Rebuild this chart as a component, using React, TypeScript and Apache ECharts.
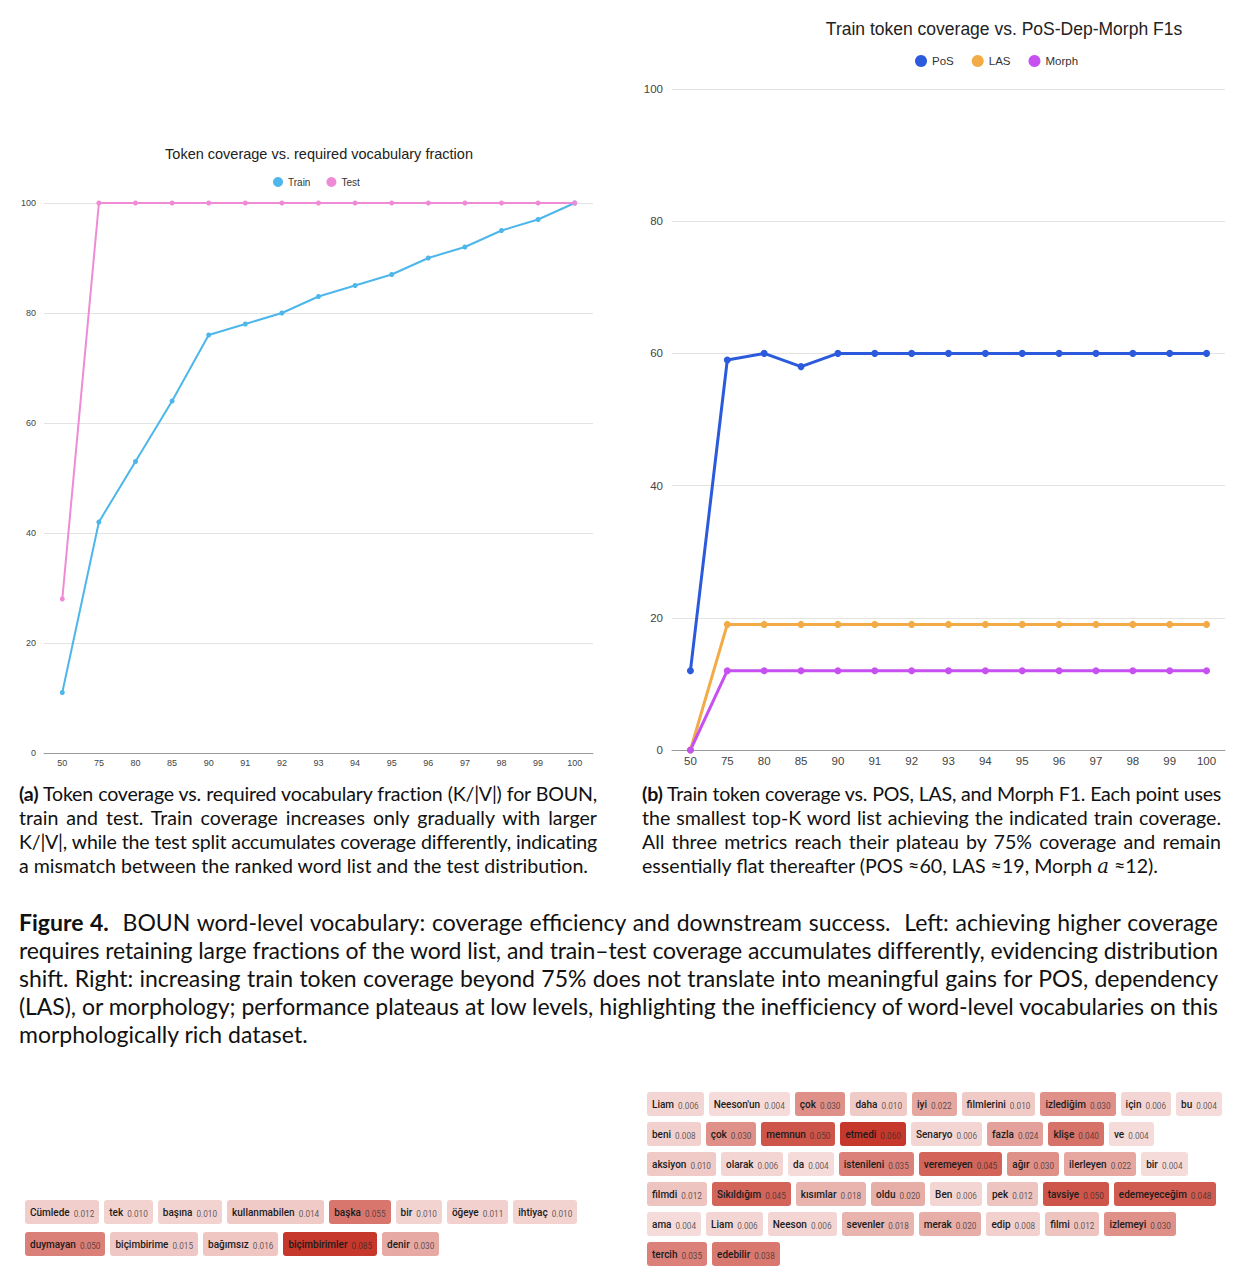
import React, { useEffect, useLayoutEffect, useRef } from "react";
import * as echarts from "echarts";

// Coverage thresholds (% of train tokens covered) shared by both panels
const coverageLevels = ["50", "75", "80", "85", "90", "91", "92", "93", "94", "95", "96", "97", "98", "99", "100"];

// Left panel: token coverage (%) for train and test splits
const trainCoverage = [11, 42, 53, 64, 76, 78, 80, 83, 85, 87, 90, 92, 95, 97, 100];
const testCoverage = [28, 100, 100, 100, 100, 100, 100, 100, 100, 100, 100, 100, 100, 100, 100];

// Right panel: downstream F1 scores
const posF1 = [12, 59, 60, 58, 60, 60, 60, 60, 60, 60, 60, 60, 60, 60, 60];
const lasF1 = [0, 19, 19, 19, 19, 19, 19, 19, 19, 19, 19, 19, 19, 19, 19];
const morphF1 = [0, 12, 12, 12, 12, 12, 12, 12, 12, 12, 12, 12, 12, 12, 12];

// Attribution chips: word and weight
const leftWords = ["Cümlede", "tek", "başına", "kullanmabilen", "başka", "bir", "öğeye", "ihtiyaç", "duymayan", "biçimbirime", "bağımsız", "biçimbirimler", "denir"];
const leftWeights = [0.012, 0.010, 0.010, 0.014, 0.055, 0.010, 0.011, 0.010, 0.050, 0.015, 0.016, 0.085, 0.030];
const leftRowSizes = [8, 5];

const rightWords = [
  "Liam", "Neeson'un", "çok", "daha", "iyi", "filmlerini", "izlediğim", "için", "bu",
  "beni", "çok", "memnun", "etmedi", "Senaryo", "fazla", "klişe", "ve",
  "aksiyon", "olarak", "da", "istenileni", "veremeyen", "ağır", "ilerleyen", "bir",
  "filmdi", "Sıkıldığım", "kısımlar", "oldu", "Ben", "pek", "tavsiye", "edemeyeceğim",
  "ama", "Liam", "Neeson", "sevenler", "merak", "edip", "filmi", "izlemeyi",
  "tercih", "edebilir",
];
const rightWeights = [
  0.006, 0.004, 0.030, 0.010, 0.022, 0.010, 0.030, 0.006, 0.004,
  0.008, 0.030, 0.050, 0.060, 0.006, 0.024, 0.040, 0.004,
  0.010, 0.006, 0.004, 0.035, 0.045, 0.030, 0.022, 0.004,
  0.012, 0.045, 0.018, 0.020, 0.006, 0.012, 0.050, 0.048,
  0.004, 0.006, 0.006, 0.018, 0.020, 0.008, 0.012, 0.030,
  0.035, 0.038,
];
const rightRowSizes = [9, 8, 8, 8, 8, 2];

const captionA = [
  ["(a)", " Token coverage vs. required vocabulary fraction (K/|V|) for BOUN,"],
  ["", "train and test. Train coverage increases only gradually with larger"],
  ["", "K/|V|, while the test split accumulates coverage differently, indicating"],
  ["", "a mismatch between the ranked word list and the test distribution."],
];
const captionB = [
  ["(b)", " Train token coverage vs. POS, LAS, and Morph F1. Each point uses"],
  ["", "the smallest top-K word list achieving the indicated train coverage."],
  ["", "All three metrics reach their plateau by 75% coverage and remain"],
  ["", "essentially flat thereafter (POS ≈60, LAS ≈19, Morph"],
];
const figureCaption = [
  ["Figure 4.", "  BOUN word-level vocabulary: coverage efficiency and downstream success.  Left: achieving higher coverage"],
  ["", "requires retaining large fractions of the word list, and train–test coverage accumulates differently, evidencing distribution"],
  ["", "shift. Right: increasing train token coverage beyond 75% does not translate into meaningful gains for POS, dependency"],
  ["", "(LAS), or morphology; performance plateaus at low levels, highlighting the inefficiency of word-level vocabularies on this"],
  ["", "morphologically rich dataset."],
];

const FONT = "'Liberation Sans', Arial, sans-serif";
const CAPTION_FONT = "Lato, 'Noto Sans', sans-serif";

function buildOption(): echarts.EChartsOption {
  const axisLabel = (size: number, margin: number) => ({ color: "#444", fontSize: size, fontFamily: FONT, margin });
  const split = { show: true, lineStyle: { color: "#e3e3e3", width: 1 } };
  return {
    animation: false,
    backgroundColor: "#ffffff",
    textStyle: { fontFamily: FONT },
    title: [
      {
        text: "Token coverage vs. required vocabulary fraction",
        left: 319, top: 146, textAlign: "center", padding: 0,
        textStyle: { fontSize: 14.5, fontWeight: "normal", color: "#222", fontFamily: FONT },
      },
      {
        text: "Train token coverage vs. PoS-Dep-Morph F1s",
        left: 1004, top: 20, textAlign: "center", padding: 0,
        textStyle: { fontSize: 17.5, fontWeight: "normal", color: "#222", fontFamily: FONT },
      },
    ],
    legend: [
      {
        data: ["Train", "Test"], left: 273, top: 177, icon: "circle", padding: 0,
        itemWidth: 10, itemHeight: 10, itemGap: 16,
        textStyle: { fontSize: 10, color: "#333", fontFamily: FONT },
      },
      {
        data: ["PoS", "LAS", "Morph"], left: 915, top: 55, icon: "circle", padding: 0,
        itemWidth: 12, itemHeight: 12, itemGap: 18,
        textStyle: { fontSize: 11.5, color: "#333", fontFamily: FONT },
      },
    ],
    grid: [
      { left: 44, top: 203, width: 549, height: 550 },
      { left: 672, top: 89, width: 553, height: 661 },
    ],
    xAxis: [
      {
        type: "category", gridIndex: 0, data: coverageLevels, boundaryGap: true,
        axisTick: { show: false }, axisLine: { lineStyle: { color: "#9a9a9a" } },
        axisLabel: axisLabel(9, 5),
      },
      {
        type: "category", gridIndex: 1, data: coverageLevels, boundaryGap: true,
        axisTick: { show: false }, axisLine: { lineStyle: { color: "#9a9a9a" } },
        axisLabel: axisLabel(11.5, 5),
      },
    ],
    yAxis: [
      {
        type: "value", gridIndex: 0, min: 0, max: 100, interval: 20,
        axisLine: { show: false }, axisTick: { show: false },
        axisLabel: axisLabel(9, 8), splitLine: split,
      },
      {
        type: "value", gridIndex: 1, min: 0, max: 100, interval: 20,
        axisLine: { show: false }, axisTick: { show: false },
        axisLabel: axisLabel(11.5, 9), splitLine: split,
      },
    ],
    series: [
      {
        name: "Train", type: "line", xAxisIndex: 0, yAxisIndex: 0, data: trainCoverage,
        color: "#4db6ea", symbol: "circle", symbolSize: 5, lineStyle: { width: 2 },
      },
      {
        name: "Test", type: "line", xAxisIndex: 0, yAxisIndex: 0, data: testCoverage,
        color: "#ef8bd6", symbol: "circle", symbolSize: 5, lineStyle: { width: 2 },
      },
      {
        name: "PoS", type: "line", xAxisIndex: 1, yAxisIndex: 1, data: posF1,
        color: "#2b5bdc", symbol: "circle", symbolSize: 7, lineStyle: { width: 3 },
      },
      {
        name: "LAS", type: "line", xAxisIndex: 1, yAxisIndex: 1, data: lasF1,
        color: "#f2ab46", symbol: "circle", symbolSize: 7, lineStyle: { width: 3 },
      },
      {
        name: "Morph", type: "line", xAxisIndex: 1, yAxisIndex: 1, data: morphF1,
        color: "#c650f0", symbol: "circle", symbolSize: 7, lineStyle: { width: 3 },
      },
    ],
  };
}

function chipColor(value: number, max: number): string {
  const t = 0.12 + 0.88 * (value / max);
  const mix = (c: number) => Math.round(255 + (c - 255) * t);
  return `rgb(${mix(198)}, ${mix(56)}, ${mix(43)})`;
}

function ChipRows(props: { words: string[]; weights: number[]; rows: number[]; rowGap: number; left: number; top: number }) {
  const { words, weights, rows, rowGap, left, top } = props;
  const max = Math.max(...weights);
  let start = 0;
  const rendered = rows.map((n, ri) => {
    const idx = Array.from({ length: n }, (_, k) => start + k);
    start += n;
    return (
      <div key={ri} style={{ display: "flex", gap: 5, marginBottom: rowGap }}>
        {idx.map((i) => (
          <div
            key={i}
            style={{
              background: chipColor(weights[i], max),
              borderRadius: 3,
              height: 24,
              padding: "0 5px",
              display: "flex",
              alignItems: "center",
              whiteSpace: "nowrap",
              fontFamily: "Roboto, sans-serif",
            }}
          >
            <span style={{ fontSize: 10, fontWeight: 500, color: "#1c1c1c" }}>{words[i]}</span>
            <span style={{ fontSize: 8.2, color: "rgba(40,40,40,0.72)", marginLeft: 4, position: "relative", top: 2 }}>
              {weights[i].toFixed(3)}
            </span>
          </div>
        ))}
      </div>
    );
  });
  return <div style={{ position: "absolute", left, top }}>{rendered}</div>;
}

function Caption(props: { lines: string[][]; left: number; top: number; width: number; fontSize: number; lineHeight: number; tail?: React.ReactNode }) {
  const { lines, left, top, width, fontSize, lineHeight, tail } = props;
  const boxRef = useRef<HTMLDivElement>(null);

  // Tighten letter spacing on any line whose natural width exceeds the column
  useLayoutEffect(() => {
    const fit = () => {
      const box = boxRef.current;
      if (!box) return;
      Array.from(box.children).forEach((child) => {
        const line = child as HTMLElement;
        line.style.letterSpacing = "0px";
        line.style.display = "inline-block";
        const natural = line.getBoundingClientRect().width;
        line.style.display = "block";
        const chars = (line.textContent || "").length;
        if (natural > width - 1 && chars > 0) {
          line.style.letterSpacing = `${-(natural - width + 3) / chars}px`;
        }
      });
    };
    fit();
    const fonts = (document as any).fonts;
    if (fonts && fonts.ready) fonts.ready.then(fit);
  }, [width]);

  return (
    <div
      ref={boxRef}
      style={{ position: "absolute", left, top, width, fontFamily: CAPTION_FONT, fontSize, lineHeight: `${lineHeight}px`, color: "#111" }}
    >
      {lines.map(([bold, rest], i) => {
        const last = i === lines.length - 1;
        return (
          <div
            key={i}
            style={{
              whiteSpace: "pre",
              textAlign: "justify",
              textAlignLast: last ? "left" : "justify",
            }}
          >
            {bold ? <b>{bold}</b> : null}
            {rest}
            {last ? tail : null}
          </div>
        );
      })}
    </div>
  );
}

export default function App() {
  const ref = useRef<HTMLDivElement>(null);
  useEffect(() => {
    if (!ref.current) return;
    const chart = echarts.init(ref.current, undefined, { renderer: "svg" });
    chart.setOption(buildOption());
    return () => chart.dispose();
  }, []);

  return (
    <div style={{ position: "absolute", left: 0, top: 0, width: 1241, height: 1283, background: "#fff", overflow: "hidden" }}>
      <div ref={ref} style={{ position: "absolute", left: 0, top: 0, width: 1241, height: 780 }} />
      <Caption lines={captionA} left={19} top={782} width={578} fontSize={19.6} lineHeight={24} />
      <Caption
        lines={captionB}
        left={642}
        top={782}
        width={579}
        fontSize={19.6}
        lineHeight={24}
        tail={
          <>
            {" "}
            <i style={{ fontFamily: "'DejaVu Serif', serif" }}>a</i> ≈12).
          </>
        }
      />
      <Caption lines={figureCaption} left={19} top={908} width={1199} fontSize={23} lineHeight={28} />
      <ChipRows words={leftWords} weights={leftWeights} rows={leftRowSizes} rowGap={8} left={25} top={1200} />
      <ChipRows words={rightWords} weights={rightWeights} rows={rightRowSizes} rowGap={6} left={647} top={1092} />
    </div>
  );
}
